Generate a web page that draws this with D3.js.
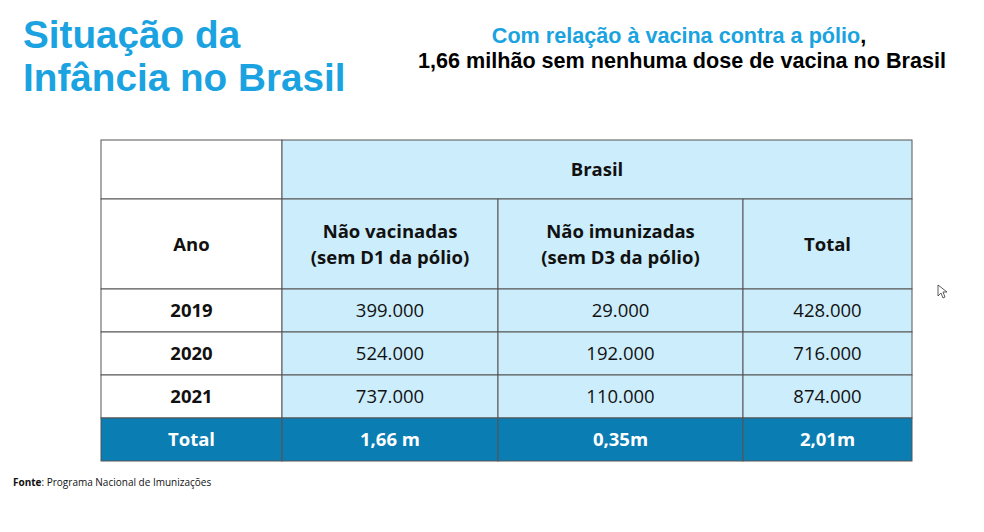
<!DOCTYPE html>
<html>
<head>
<meta charset="utf-8">
<script src="https://cdn.jsdelivr.net/npm/d3@7"></script>
<style>
  body { margin: 0; background: #fff; }
  svg { display: block; }
</style>
</head>
<body>
<svg width="984" height="532"></svg>
<script>
// table data
const years = ["2019", "2020", "2021"];
const naoVacinadas = ["399.000", "524.000", "737.000"];
const naoImunizadas = ["29.000", "192.000", "110.000"];
const totais = ["428.000", "716.000", "874.000"];
const totalRow = ["Total", "1,66 m", "0,35m", "2,01m"];
const headers = [["Ano"], ["Não vacinadas", "(sem D1 da pólio)"], ["Não imunizadas", "(sem D3 da pólio)"], ["Total"]];

const svg = d3.select("svg");
const blue = "#1aa3e0";
const light = "#ccedfb";
const dark = "#0a7db3";
const line = "#555";
const cellFont = "'Open Sans', sans-serif";

// column and row edges
const colEdges = [101, 282, 498, 743, 912];
const rowEdges = [140, 199, 289, 332, 375, 418, 461];

// titles
const title = svg.append("text")
  .attr("x", 23).attr("font-family", "'Liberation Sans', Arial, sans-serif")
  .attr("font-weight", "bold").attr("font-size", 38.7).attr("fill", blue);
title.append("tspan").attr("x", 23).attr("y", 48).text("Situação da");
title.append("tspan").attr("x", 23).attr("y", 91).text("Infância no Brasil");

const sub = svg.append("text")
  .attr("text-anchor", "middle")
  .attr("font-family", "'Liberation Sans', Arial, sans-serif")
  .attr("font-weight", "bold").attr("font-size", 21.6);
const l1 = sub.append("tspan").attr("x", 679).attr("y", 43);
l1.append("tspan").attr("fill", blue).text("Com relação à vacina contra a pólio");
l1.append("tspan").attr("fill", "#000").text(",");
sub.append("tspan").attr("x", 682).attr("y", 68).attr("fill", "#000")
  .text("1,66 milhão sem nenhuma dose de vacina no Brasil");

// build cell list
const cells = [];
cells.push({ c0: 0, c1: 1, r0: 0, r1: 1, fill: "#fff", lines: [] });
cells.push({ c0: 1, c1: 4, r0: 0, r1: 1, fill: light, lines: ["Brasil"], bold: true });
headers.forEach((h, i) => cells.push({ c0: i, c1: i + 1, r0: 1, r1: 2, fill: i === 0 ? "#fff" : light, lines: h, bold: true }));
years.forEach((y, r) => {
  [y, naoVacinadas[r], naoImunizadas[r], totais[r]].forEach((v, c) => {
    cells.push({ c0: c, c1: c + 1, r0: r + 2, r1: r + 3, fill: c === 0 ? "#fff" : light, lines: [v], bold: c === 0 });
  });
});
totalRow.forEach((v, c) => cells.push({ c0: c, c1: c + 1, r0: 5, r1: 6, fill: dark, lines: [v], bold: true, color: "#fff" }));

const g = svg.append("g").selectAll("g").data(cells).join("g");
g.append("rect")
  .attr("x", d => colEdges[d.c0]).attr("y", d => rowEdges[d.r0])
  .attr("width", d => colEdges[d.c1] - colEdges[d.c0])
  .attr("height", d => rowEdges[d.r1] - rowEdges[d.r0])
  .attr("fill", d => d.fill).attr("stroke", line).attr("stroke-width", 1);

g.each(function (d) {
  const cx = (colEdges[d.c0] + colEdges[d.c1]) / 2;
  const cy = (rowEdges[d.r0] + rowEdges[d.r1]) / 2;
  const n = d.lines.length;
  const lh = 26;
  d3.select(this).selectAll("text").data(d.lines).join("text")
    .attr("x", cx)
    .attr("y", (t, i) => cy + (i - (n - 1) / 2) * lh)
    .attr("dy", "0.36em")
    .attr("text-anchor", "middle")
    .attr("font-family", cellFont)
    .attr("font-size", 18.5)
    .attr("font-weight", d.bold ? 700 : 400)
    .attr("fill", d.color || "#111")
    .text(t => t);
});

// source
const src = svg.append("text").attr("x", 13).attr("y", 486)
  .attr("font-family", cellFont).attr("font-size", 10).attr("fill", "#111");
src.append("tspan").attr("font-weight", "bold").text("Fonte");
src.append("tspan").text(": Programa Nacional de Imunizações");

// mouse pointer
svg.append("path")
  .attr("d", "M938,285 L938,296 L941,293 L943,298 L945,297 L943,292 L947,292 Z")
  .attr("fill", "#fff").attr("stroke", "#333").attr("stroke-width", 0.8);
</script>
</body>
</html>
